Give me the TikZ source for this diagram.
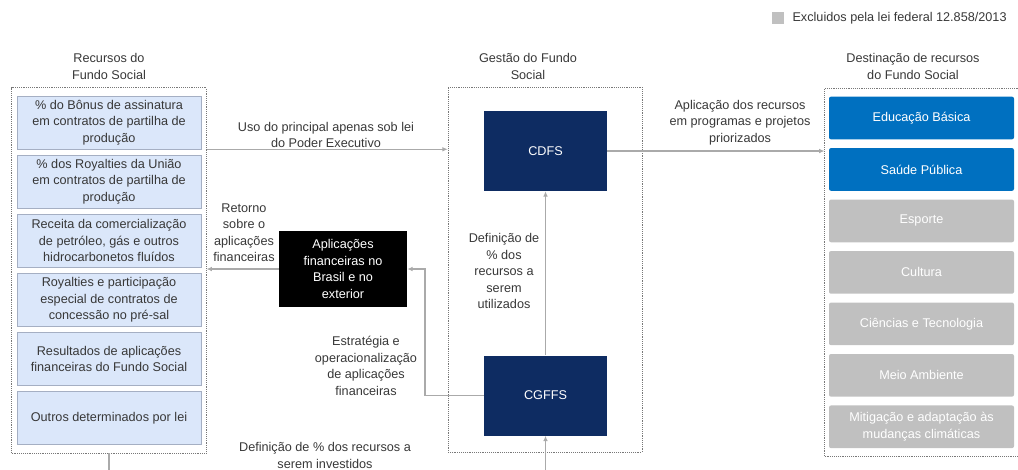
\documentclass[tikz,border=0pt]{standalone}
\usepackage{fontspec}
\setmainfont{Liberation Sans}
\usetikzlibrary{positioning,fit,arrows.meta}
\definecolor{cSrc}{RGB}{219,231,250}
\definecolor{cSrcB}{RGB}{165,175,195}
\definecolor{cNavy}{RGB}{14,44,98}
\definecolor{cBlue}{RGB}{0,112,192}
\definecolor{cExcl}{RGB}{192,192,192}
\definecolor{cLine}{RGB}{170,170,170}
\definecolor{cDot}{RGB}{120,120,120}
\definecolor{cTxt}{RGB}{56,56,56}

\begin{document}
\begin{tikzpicture}[x=0.75pt,y=-0.75pt,node distance=4.2pt,
   every node/.style={font=\fontsize{9.5}{12.4}\selectfont},
   src/.style={draw=cSrcB,fill=cSrc,text=cTxt,align=center,minimum width=138pt,minimum height=39.75pt,inner sep=1pt},
   dst/.style={fill=cBlue,text=white,rounded corners=1.5pt,align=center,minimum width=138.75pt,minimum height=32pt,inner sep=1pt},
   excl/.style={dst,fill=cExcl},
   gest/.style={fill=cNavy,text=white,minimum width=92pt,minimum height=60pt},
   grp/.style={draw=cDot,densely dotted,inner sep=0pt},
   lbl/.style={text=cTxt,align=center,inner sep=1pt},
   a/.style={-{Latex[length=4pt,width=3.5pt]},cLine,thick}]
  \useasboundingbox (0,0) rectangle (1018,469);
  % legend
  \node[fill=cExcl,minimum size=9pt,inner sep=0pt] (lg) at (778,18) {};
  \node[lbl,right=5pt of lg] (lgt) {Excluidos pela lei federal 12.858/2013};
  % recursos
  \node[lbl] (t1) at (109,66.5) {Recursos do\\ Fundo Social};
  \node[src] (b1) at (109,122.5) {\% do Bônus de assinatura\\ em contratos de partilha de\\ produção};
  \node[src,below=of b1] (b2) {\% dos Royalties da União\\ em contratos de partilha de\\ produção};
  \node[src,below=of b2] (b3) {Receita da comercialização\\ de petróleo, gás e outros\\ hidrocarbonetos fluídos};
  \node[src,below=of b3] (b4) {Royalties e participação\\ especial de contratos de\\ concessão no pré-sal};
  \node[src,below=of b4] (b5) {Resultados de aplicações\\ financeiras do Fundo Social};
  \node[src,below=of b5] (b6) {Outros determinados por lei};
  \node[grp,fit=(b1)(b6),inner xsep=3.75pt,inner ysep=6pt] (srcgrp) {};
  % gestao
  \node[lbl] (t2) at (528,66.5) {Gestão do Fundo\\ Social};
  \node[grp,minimum width=145.5pt,minimum height=273.75pt] (mgrp) at (545,269.5) {};
  \node[gest] (cdfs) at (545.5,151) {CDFS};
  \node[gest] (cgffs) at (545.5,395.5) {CGFFS};
  \node[fill=black,text=white,align=center,minimum width=96pt,minimum height=57pt,inner sep=1pt] (apl) at (343,269) {Aplicações\\ financeiras no\\ Brasil e no\\ exterior};
  % destinacao
  \node[lbl] (t3) at (913,66.5) {Destinação de recursos\\ do Fundo Social};
  \node[dst] (d1) at (921.5,118) {Educação Básica};
  \node[dst,below=6.2pt of d1] (d2) {Saúde Pública};
  \node[excl,below=6.2pt of d2] (d3) {Esporte};
  \node[excl,below=6.2pt of d3] (d4) {Cultura};
  \node[excl,below=6.2pt of d4] (d5) {Ciências e Tecnologia};
  \node[excl,below=6.2pt of d5] (d6) {Meio Ambiente};
  \node[excl,below=6.2pt of d6] (d7) {Mitigação e adaptação às\\ mudanças climáticas};
  \node[grp,fit=(d1)(d7),inner xsep=3pt,inner ysep=6pt] (dgrp) {};
  % connectors
  \draw[a] (b1.south -| srcgrp.east) -- (b1.south -| mgrp.west);
  \draw[a] (cdfs.east) -- (cdfs.east -| dgrp.west);
  \draw[a] (cgffs.north) -- (cdfs.south);
  \coordinate (k) at (425,269);
  \draw[a] (cgffs.west) -| (k) -- (apl.east);
  \draw[a] (apl.west) -- (apl.west -| srcgrp.east);
  \draw[cLine,thick] (srcgrp.south) -- ++(0,25);
  \coordinate (inv) at (545.5,475);
  \draw[a] (inv) -- (cgffs.south);
  % labels
  \node[lbl] (l1) at (326,135) {Uso do principal apenas sob lei\\ do Poder Executivo};
  \node[lbl] (l2) at (740,122.5) {Aplicação dos recursos\\ em programas e projetos\\ priorizados};
  \node[lbl] (l3) at (244,232.5) {Retorno\\ sobre o\\ aplicações\\ financeiras};
  \node[lbl] (l4) at (504,271) {Definição de\\ \% dos\\ recursos a\\ serem\\ utilizados};
  \node[lbl] (l5) at (366,366) {Estratégia e\\ operacionalização\\ de aplicações\\ financeiras};
  \node[lbl] (l6) at (325,455.5) {Definição de \% dos recursos a\\ serem investidos};
\end{tikzpicture}
\end{document}
